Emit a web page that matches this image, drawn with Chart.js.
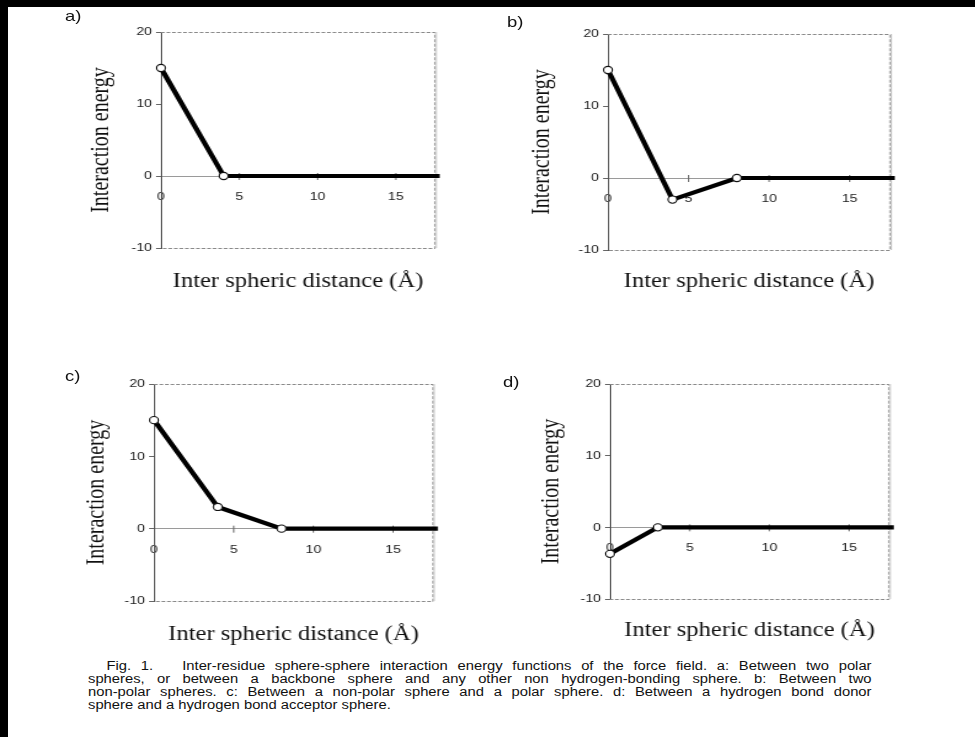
<!DOCTYPE html>
<html><head><meta charset="utf-8">
<script src="https://cdn.jsdelivr.net/npm/chart.js@4.4.1/dist/chart.umd.min.js"></script>
<style>
html,body{margin:0;padding:0;background:#fff;}
body{width:975px;height:737px;position:relative;overflow:hidden;}
#bl{position:absolute;left:0;top:0;width:8px;height:737px;background:#000;}
#bt{position:absolute;left:0;top:0;width:975px;height:7px;background:#000;}
.wrap{position:absolute;transform-origin:0 0;}
.wrap canvas{display:block;}
.lab{position:absolute;font-family:"Liberation Sans",Arial,sans-serif;font-size:15px;color:#111;line-height:15px;transform:scaleX(1.23);transform-origin:0 0;}
#cap{position:absolute;left:88px;top:660px;width:637px;transform:scaleX(1.23);transform-origin:0 0;font-family:"Liberation Sans",Arial,sans-serif;font-size:12px;line-height:13px;color:#111;}
#cap div{text-align:justify;text-align-last:justify;white-space:nowrap;}
#cap div.last{text-align:left;text-align-last:left;}
</style></head>
<body>
<div id="bl"></div><div id="bt"></div>
<div class="wrap" id="wa"><canvas id="ca"></canvas></div>
<div class="wrap" id="wb"><canvas id="cb"></canvas></div>
<div class="wrap" id="wc"><canvas id="cc"></canvas></div>
<div class="wrap" id="wd"><canvas id="cd"></canvas></div>
<div class="lab" style="left:65px;top:8px">a)</div>
<div class="lab" style="left:507px;top:14px">b)</div>
<div class="lab" style="left:65px;top:368px">c)</div>
<div class="lab" style="left:503px;top:374px">d)</div>
<div id="cap">
<div style="padding-left:15px">Fig. 1.&nbsp;&nbsp; Inter-residue sphere-sphere interaction energy functions of the force field. a: Between two polar</div>
<div>spheres, or between a backbone sphere and any other non hydrogen-bonding sphere. b: Between two</div>
<div>non-polar spheres. c: Between a non-polar sphere and a polar sphere. d: Between a hydrogen bond donor</div>
<div class="last">sphere and a hydrogen bond acceptor sphere.</div>
</div>
<script>
// ---- data ----
const xTickValues = [0, 5, 10, 15];
const yTickValues = [-10, 0, 10, 20];
const xMin = 0, xMax = 17.5, yMin = -10, yMax = 20;
const yAxisTitle = "Interaction energy";
const xAxisTitle = "Inter spheric distance (Å)";

const aX = [0, 4, 17.8];
const aY = [15, 0, 0];
const bX = [0, 4, 8, 17.8];
const bY = [15, -3, 0, 0];
const cX = [0, 4, 8, 17.8];
const cY = [15, 3, 0, 0];
const dX = [0, 3, 17.8];
const dY = [-3.7, 0, 0];

// ---- layout of panels (plot area rectangles in page px) ----
const K = 1.23; // horizontal stretch of the scanned figure
const panels = [
  {id:'ca', w:'wa', xs:aX, ys:aY, rect:{l:161,r:435,t:32,b:248}, yTitleOff:59, xTitleOff:34},
  {id:'cb', w:'wb', xs:bX, ys:bY, rect:{l:608,r:890,t:34,b:250}, yTitleOff:66, xTitleOff:32},
  {id:'cc', w:'wc', xs:cX, ys:cY, rect:{l:154,r:433,t:384,b:601}, yTitleOff:57, xTitleOff:34},
  {id:'cd', w:'wd', xs:dX, ys:dY, rect:{l:610,r:889,t:384,b:599}, yTitleOff:58, xTitleOff:32}
];

const YWF = 80, PRF = 16, PT = 12, XB = 52;
const yTitleFont = {family:'"Liberation Serif","Times New Roman",serif', size:20, lineHeight:1};
const xTitleFont = {family:'"Liberation Serif","Times New Roman",serif', size:20, lineHeight:1};
const tickFont = {family:'"Liberation Sans",Arial,sans-serif', size:11.5};

const framePlugin = {
  id:'frame',
  beforeDatasetsDraw(chart){
    const {ctx, chartArea:a, scales} = chart;
    ctx.save();
    ctx.strokeStyle = '#8a8a8a';
    ctx.lineWidth = 1;
    ctx.setLineDash([3,1.5]);
    ctx.beginPath();
    ctx.moveTo(a.left, a.top+0.5); ctx.lineTo(a.right, a.top+0.5);
    ctx.lineTo(a.right, a.bottom+0.5); ctx.lineTo(a.left, a.bottom+0.5);
    ctx.stroke();
    ctx.setLineDash([]);
    ctx.strokeStyle = '#c4c4c4';
    ctx.beginPath(); ctx.moveTo(a.right+1, a.top); ctx.lineTo(a.right+1, a.bottom); ctx.stroke();
    ctx.strokeStyle = '#666';
    const y0 = scales.y.getPixelForValue(0);
    scales.x.ticks.forEach(t => {
      if (t.value === 0) return;
      const px = scales.x.getPixelForValue(t.value);
      ctx.beginPath(); ctx.moveTo(px, y0-3); ctx.lineTo(px, y0+4); ctx.stroke();
    });
    ctx.restore();
  }
};

panels.forEach(p => {
  const r = p.rect;
  const cv = document.getElementById(p.id);
  const wr = document.getElementById(p.w);
  const yw = YWF / K;
  const pw = (r.r - r.l) / K;
  const W = Math.round(yw + pw + PRF / K);
  const pr = W - yw - pw;
  const H = PT + (r.b - r.t) + XB;
  cv.width = W; cv.height = H;
  cv.style.width = W + 'px'; cv.style.height = H + 'px';
  wr.style.left = (r.l - YWF) + 'px';
  wr.style.top = (r.t - PT) + 'px';
  wr.style.width = W + 'px'; wr.style.height = H + 'px';
  wr.style.transform = 'scaleX(' + K + ')';
  const pts = p.xs.map((x,i) => ({x:x, y:p.ys[i]}));
  const radii = p.xs.map((x,i) => i < p.xs.length-1 ? 3.6 : 0);
  new Chart(cv, {
    type:'line',
    data:{datasets:[{
      data:pts,
      borderColor:'#000', borderWidth:4.2, tension:0,
      pointRadius:radii, pointBackgroundColor:'#fff', pointBorderColor:'#111', pointBorderWidth:1.1,
      clip:false
    }]},
    options:{
      responsive:false, animation:false, devicePixelRatio:1,
      layout:{padding:{left:0, top:PT, right:pr, bottom:0}},
      plugins:{legend:{display:false}, tooltip:{enabled:false}},
      scales:{
        x:{
          type:'linear', position:{y:0}, min:xMin, max:xMax,
          afterBuildTicks(s){ s.ticks = xTickValues.map(v => ({value:v})); },
          grid:{display:false, drawTicks:false, tickLength:0},
          border:{display:true, color:'#9a9a9a', width:1, dash:[4,1.5]},
          ticks:{font:tickFont, color:'#222', padding:14, maxRotation:0, autoSkip:false}
        },
        x2:{
          type:'linear', position:'bottom', display:true,
          afterFit(s){ s.height = XB; },
          grid:{display:false}, border:{display:false},
          ticks:{display:false},
          title:{display:true, text:xAxisTitle, font:xTitleFont, color:'#111', padding:{top:0, bottom: XB - p.xTitleOff - 10}}
        },
        y:{
          type:'linear', position:'left', min:yMin, max:yMax,
          afterBuildTicks(s){ s.ticks = yTickValues.map(v => ({value:v})); },
          afterFit(s){ s.width = yw; },
          grid:{display:true, drawOnChartArea:false, drawTicks:true, tickLength:4, color:'#666'},
          border:{display:true, color:'#555', width:1},
          ticks:{font:tickFont, color:'#222', padding:3.3},
          title:{display:true, text:yAxisTitle, font:yTitleFont, color:'#111', padding:{top: (YWF - p.yTitleOff)/K - 10, bottom:0}}
        }
      }
    },
    plugins:[framePlugin]
  });
});
</script>
</body></html>
